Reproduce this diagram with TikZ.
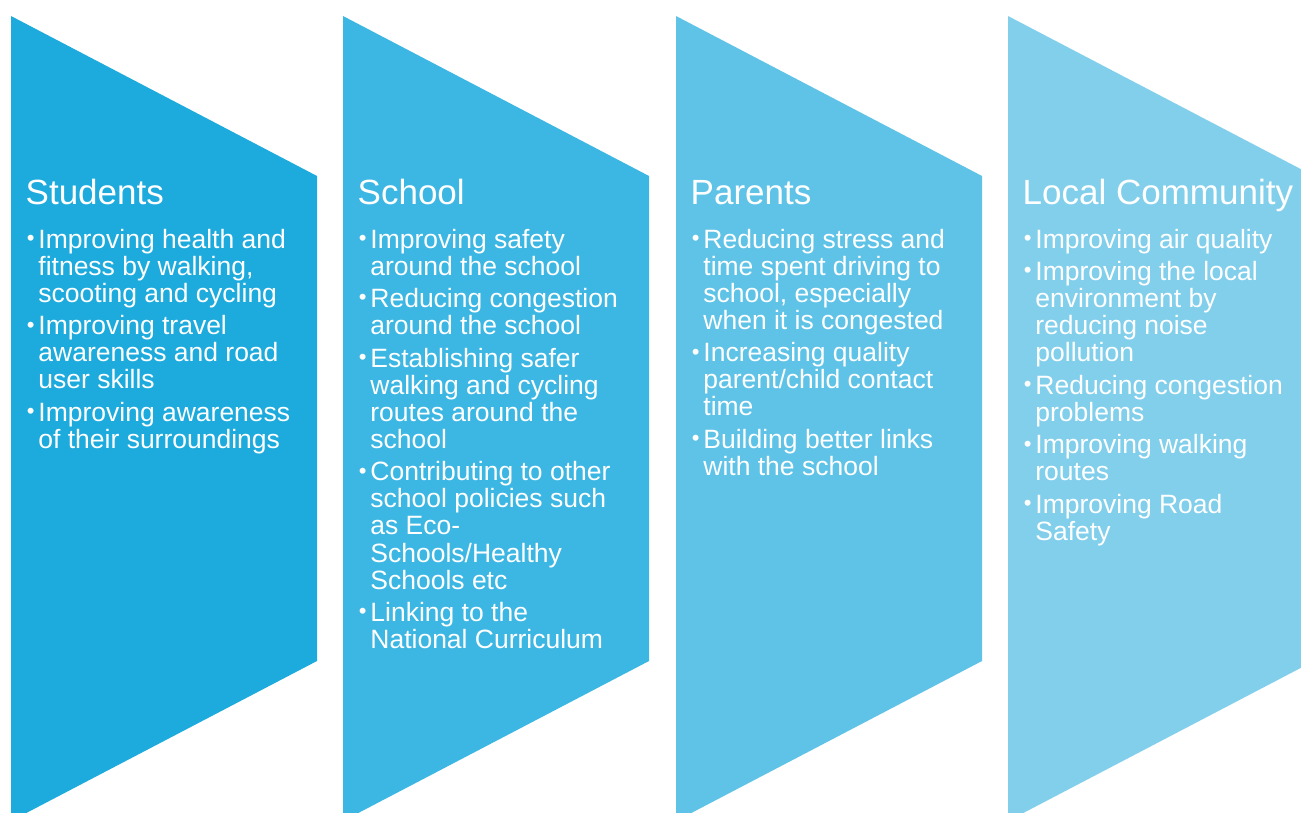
\documentclass[tikz,border=0pt]{standalone}
\usepackage{fontspec}
\setmainfont{Liberation Sans}
\definecolor{cA}{HTML}{1DABDD}
\definecolor{cB}{HTML}{3CB7E3}
\definecolor{cC}{HTML}{5FC3E7}
\definecolor{cD}{HTML}{82CFEC}
\newcommand\mybul{\llap{\raisebox{2.6pt}{\fontsize{22}{22}\selectfont •}\hspace{3.85pt}}}
\tikzset{
  ttl/.style={anchor=base west, inner sep=0pt, text=white, font=\fontsize{35}{40}\selectfont},
  blt/.style={anchor=base west, inner sep=0pt, text=white, align=left, font=\fontsize{26.5}{27.1}\selectfont},
}
\begin{document}
\begin{tikzpicture}[x=1pt,y=-1pt]
\useasboundingbox (0,0) rectangle (1301,813);
\begin{scope}
\clip (0,0) rectangle (1301,813);
\foreach \xo/\col [count=\i] in {11/cA,343/cB,676/cC,1008/cD}{
  \fill[\col] (\xo,16) -- (\xo+306,176) -- (\xo+306,661) -- (\xo,821) -- cycle;
}
\end{scope}
% Panel 1 (base anchor = last line baseline)
\node[ttl] (t1) at (25.5,205) {Students};
\node[blt] (a1) at (38.2,302.2) {\mybul Improving health and\\fitness by walking,\\scooting and cycling};
\node[blt] (a2) at (38.2,388.8) {\mybul Improving travel\\awareness and road\\user skills};
\node[blt] (a3) at (38.2,448.3) {\mybul Improving awareness\\of their surroundings};
% Panel 2
\node[ttl] (t2) at (357.5,205) {School};
\node[blt] (b1) at (370.2,275.1) {\mybul Improving safety\\around the school};
\node[blt] (b2) at (370.2,334.6) {\mybul Reducing congestion\\around the school};
\node[blt] (b3) at (370.2,448.3) {\mybul Establishing safer\\walking and cycling\\routes around the\\school};
\node[blt] (b4) at (370.2,589.1) {\mybul Contributing to other\\school policies such\\as Eco-\\Schools/Healthy\\Schools etc};
\node[blt] (b5) at (370.2,648.6) {\mybul Linking to the\\National Curriculum};
% Panel 3
\node[ttl] (t3) at (690.5,205) {Parents};
\node[blt] (c1) at (703.2,329.3) {\mybul Reducing stress and\\time spent driving to\\school, especially\\when it is congested};
\node[blt] (c2) at (703.2,415.9) {\mybul Increasing quality\\parent/child contact\\time};
\node[blt] (c3) at (703.2,475.4) {\mybul Building better links\\with the school};
% Panel 4
\node[ttl] (t4) at (1022.5,205) {Local Community};
\node[blt] (d1) at (1035.2,248) {\mybul Improving air quality};
\node[blt] (d2) at (1035.2,361.7) {\mybul Improving the local\\environment by\\reducing noise\\pollution};
\node[blt] (d3) at (1035.2,421.2) {\mybul Reducing congestion\\problems};
\node[blt] (d4) at (1035.2,480.7) {\mybul Improving walking\\routes};
\node[blt] (d5) at (1035.2,540.2) {\mybul Improving Road\\Safety};
\end{tikzpicture}
\end{document}
